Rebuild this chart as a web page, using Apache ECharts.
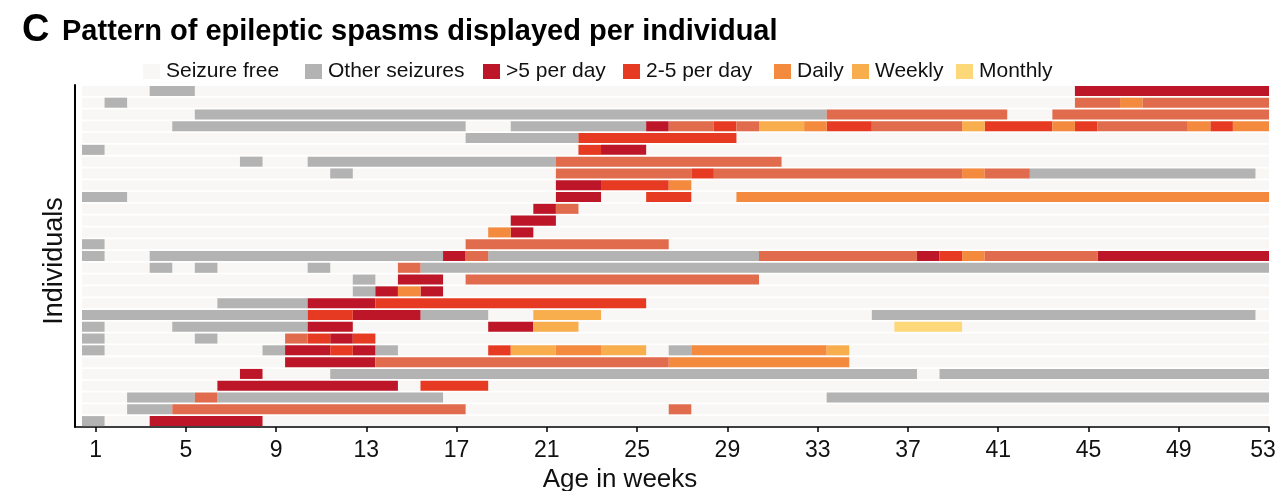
<!DOCTYPE html>
<html>
<head>
<meta charset="utf-8">
<script src="https://cdn.jsdelivr.net/npm/echarts@6/dist/echarts.min.js"></script>
<style>
  html, body { margin: 0; padding: 0; background: #fff; }
  #chart { width: 1277px; height: 491px; }
</style>
</head>
<body>
<div id="chart"></div>
<script>
// one row per individual, top to bottom
const individuals = ['1', '2', '3', '4', '5', '6', '7', '8', '9', '10', '11', '12', '13', '14', '15',
  '16', '17', '18', '19', '20', '21', '22', '23', '24', '25', '26', '27', '28', '29'];
const tickWeeks = [1, 5, 9, 13, 17, 21, 25, 29, 33, 37, 41, 45, 49, 53];
const legendNames = ['Seizure free', 'Other seizures', '>5 per day', '2-5 per day', 'Daily', 'Weekly', 'Monthly'];

// [individual, first week, last week]
const otherSeizures = [
  [1, 4, 5], [2, 2, 2], [3, 6, 33], [4, 5, 17], [4, 20, 25], [5, 18, 22], [6, 1, 1], [7, 8, 8], [7, 11, 21],
  [8, 12, 12], [8, 43, 52], [10, 1, 2], [14, 1, 1], [15, 1, 1], [15, 4, 16], [15, 19, 30], [16, 4, 4],
  [16, 6, 6], [16, 11, 11], [16, 16, 53], [17, 13, 13], [18, 13, 13], [19, 7, 10], [20, 1, 10], [20, 16, 18],
  [20, 36, 52], [21, 1, 1], [21, 5, 10], [22, 1, 1], [22, 6, 6], [23, 1, 1], [23, 9, 9], [23, 14, 14],
  [23, 27, 27], [25, 12, 37], [25, 39, 53], [27, 3, 5], [27, 7, 16], [27, 34, 53], [28, 3, 4], [29, 1, 1]
];
const over5PerDay = [
  [1, 45, 53], [4, 26, 26], [6, 24, 25], [9, 22, 23], [10, 22, 23], [11, 21, 21], [12, 20, 21], [13, 20, 20],
  [15, 17, 17], [15, 38, 38], [15, 46, 53], [17, 15, 16], [18, 14, 14], [18, 16, 16], [19, 11, 13],
  [20, 13, 15], [21, 11, 12], [21, 19, 20], [22, 12, 12], [23, 10, 11], [23, 13, 13], [24, 10, 13],
  [25, 8, 8], [26, 7, 14], [29, 4, 8]
];
const twoToFivePerDay = [
  [4, 29, 29], [4, 34, 35], [4, 41, 43], [4, 45, 45], [4, 51, 51], [5, 23, 29], [6, 23, 23], [8, 28, 28],
  [9, 24, 26], [10, 26, 27], [15, 39, 39], [19, 14, 25], [20, 11, 12], [22, 11, 11], [22, 13, 13],
  [23, 12, 12], [23, 19, 19], [26, 16, 18]
];
const daily = [
  [2, 47, 47], [4, 33, 33], [4, 44, 44], [4, 50, 50], [4, 52, 53], [8, 40, 40], [9, 27, 27], [10, 30, 53],
  [13, 19, 19], [15, 40, 40], [18, 15, 15], [23, 22, 23], [23, 28, 33], [24, 27, 34]
];
const weekly = [
  [4, 31, 32], [4, 40, 40], [20, 21, 23], [21, 21, 22], [23, 20, 21], [23, 24, 25], [23, 34, 34]
];
const monthly = [[21, 37, 39]];
// spasms drawn in the salmon tone (no legend entry in the figure)
const unspecified = [
  [2, 45, 46], [2, 48, 53], [3, 34, 41], [3, 44, 53], [4, 27, 28], [4, 30, 30], [4, 36, 39], [4, 46, 49],
  [7, 22, 31], [8, 22, 27], [8, 29, 39], [8, 41, 42], [11, 22, 22], [14, 18, 26], [15, 18, 18],
  [15, 31, 37], [15, 41, 45], [16, 15, 15], [17, 18, 30], [22, 10, 10], [24, 14, 26], [27, 6, 6],
  [28, 5, 17], [28, 27, 27]
];

const firstWeek = 1;
const lastWeek = 53;
const xMin = 0.09;
const font = 'Liberation Sans, Arial, sans-serif';

const chart = echarts.init(document.getElementById('chart'));

// each week is one cell, slightly left of its tick
const cellSeries = (name, color, segs) => ({
  name: name,
  type: 'custom',
  itemStyle: { color: color },
  encode: { x: [1, 2], y: 0 },
  data: segs.map(s => [s[0] - 1, s[1], s[2]]),
  silent: true,
  animation: false,
  renderItem: (params, api) => {
    const row = api.value(0);
    const p0 = api.coord([api.value(1) - 0.6, row]);
    const p1 = api.coord([Math.min(api.value(2) + 0.4, lastWeek), row]);
    const h = api.size([0, 1])[1] * 0.85;
    return {
      type: 'rect',
      shape: { x: p0[0], y: p0[1] - h / 2, width: p1[0] - p0[0], height: h },
      style: { fill: color }
    };
  }
});

// legend entries are spaced unevenly in the figure, so one legend per entry
const legendLeft = [143, 305, 483, 623, 774, 852, 956];
const legends = legendNames.map((n, i) => ({
  left: legendLeft[i],
  top: 61,
  padding: 0,
  icon: 'rect',
  itemWidth: 17,
  itemHeight: 15,
  selectedMode: false,
  data: [n],
  textStyle: { fontFamily: font, fontSize: 21, color: '#111', padding: [0, 0, 0, 1] }
}));

const option = {
  backgroundColor: '#fff',
  title: [
    {
      text: 'C',
      left: 17,
      top: 7,
      textStyle: { fontFamily: font, fontSize: 38, fontWeight: 'bold', color: '#000' }
    },
    {
      text: 'Pattern of epileptic spasms displayed per individual',
      left: 57,
      top: 12,
      textStyle: { fontFamily: font, fontSize: 29, fontWeight: 'bold', color: '#000' }
    }
  ],
  legend: legends,
  grid: { left: 75, right: 8, top: 85, bottom: 64, outerBoundsMode: 'none', containLabel: false },
  xAxis: {
    type: 'value',
    min: xMin,
    max: lastWeek,
    name: 'Age in weeks',
    nameLocation: 'middle',
    nameGap: 36,
    nameTextStyle: { fontFamily: font, fontSize: 26, color: '#111', padding: [0, 104, 0, 0] },
    splitLine: { show: false },
    axisLine: { show: true, lineStyle: { color: '#000', width: 1.5 } },
    axisTick: { show: true, customValues: tickWeeks, length: 5, lineStyle: { color: '#000', width: 1.5 } },
    axisLabel: {
      customValues: tickWeeks,
      fontFamily: font,
      fontSize: 23,
      color: '#111',
      margin: 12,
      // keep the last label inside the canvas
      formatter: v => (v === lastWeek ? '{last|' + v + '}' : String(v)),
      rich: { last: { fontFamily: font, fontSize: 23, color: '#111', padding: [0, 12, 0, 0] } }
    }
  },
  yAxis: {
    type: 'category',
    inverse: true,
    data: individuals,
    name: 'Individuals',
    nameLocation: 'middle',
    nameGap: 7,
    nameTextStyle: { fontFamily: font, fontSize: 27, color: '#111', padding: [0, 10, 0, 0] },
    axisLine: { show: true, lineStyle: { color: '#000', width: 2 } },
    axisTick: { show: false },
    axisLabel: { show: false },
    splitLine: { show: false }
  },
  series: [
    cellSeries('Seizure free', '#f8f7f5', individuals.map((d, i) => [i + 1, firstWeek, lastWeek])),
    cellSeries('Other seizures', '#b3b3b3', otherSeizures),
    cellSeries('>5 per day', '#bd1628', over5PerDay),
    cellSeries('2-5 per day', '#e63b22', twoToFivePerDay),
    cellSeries('Daily', '#f38a3e', daily),
    cellSeries('Weekly', '#f8ae4d', weekly),
    cellSeries('Monthly', '#fdd878', monthly),
    cellSeries('Unspecified', '#e16c4d', unspecified)
  ]
};

chart.setOption(option);
</script>
</body>
</html>
